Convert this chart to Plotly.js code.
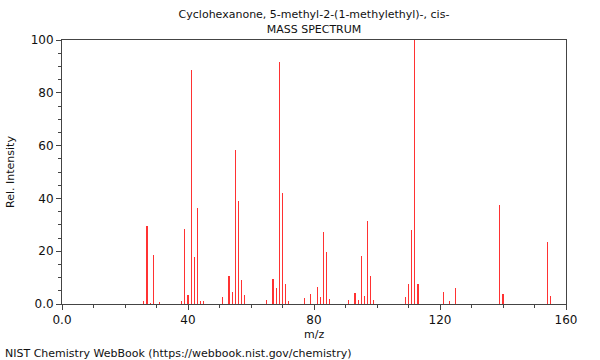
<!DOCTYPE html>
<html>
<head>
<meta charset="utf-8">
<script src="https://cdn.plot.ly/plotly-3.0.1.min.js"></script>
<style>html,body{margin:0;padding:0;background:#fff}#chart{width:600px;height:360px}</style>
</head>
<body>
<div id="chart"></div>
<script>
const mz = [26, 27, 28, 29, 31, 38, 39, 40, 41, 42, 43, 44, 45,
            51, 53, 54, 55, 56, 57, 58, 65, 67, 68, 69, 70, 71, 72,
            77, 79, 81, 82, 83, 84, 85, 91, 93, 94, 95, 96, 97, 98, 99,
            109, 110, 111, 112, 113, 121, 123, 125, 139, 140, 154, 155];
const intensity = [1.0, 29.4, 0.5, 18.7, 0.6, 1.2, 28.6, 3.4, 88.8, 17.8, 36.2, 1.2, 1.0,
                   2.5, 10.6, 4.4, 58.2, 39.0, 9.2, 3.4, 1.6, 9.5, 6.0, 91.5, 42.1, 7.7, 1.0,
                   2.4, 3.9, 6.6, 2.6, 27.4, 19.7, 2.0, 1.5, 4.0, 1.7, 18.2, 3.0, 31.5, 10.6, 1.7,
                   2.8, 7.4, 28.0, 100, 7.4, 4.4, 1.0, 5.9, 37.6, 3.7, 23.5, 2.9];
const xTickVals = [0, 40, 80, 120, 160];
const xTickText = ["0.0", "40", "80", "120", "160"];
const yTickVals = [0, 20, 40, 60, 80, 100];
const yTickText = ["0.0", "20", "40", "60", "80", "100"];
const chartTitle = "Cyclohexanone, 5-methyl-2-(1-methylethyl)-, cis-<br>MASS SPECTRUM";
const xTitle = "m/z";
const yTitle = "Rel. Intensity";
const footer = "NIST Chemistry WebBook (https://webbook.nist.gov/chemistry)";

const font = {family: "DejaVu Sans, sans-serif", size: 11, color: "#111"};
const axisColor = "#444";

const trace = {
  type: "bar",
  x: mz,
  y: intensity,
  width: 0.36,
  marker: {color: "rgb(255,50,50)", line: {width: 0}},
  hoverinfo: "x+y"
};

const layout = {
  width: 600, height: 360,
  margin: {l: 62, r: 34, t: 40, b: 56},
  paper_bgcolor: "#fff", plot_bgcolor: "#fff",
  font: font,
  showlegend: false,
  bargap: 0,
  title: {text: chartTitle, font: {family: font.family, size: 11, color: "#111"},
          xref: "paper", x: 0.5, xanchor: "center", yref: "container", y: 0.949, yanchor: "top"},
  xaxis: {
    range: [0, 160], tickmode: "array", tickvals: xTickVals, ticktext: xTickText,
    ticks: "outside", ticklen: 5, tickcolor: axisColor, tickwidth: 1,
    minor: {tickmode: "linear", tick0: 0, dtick: 10, ticks: "outside", ticklen: 3, tickcolor: axisColor, showgrid: false},
    showline: true, linecolor: axisColor, linewidth: 1, mirror: true,
    showgrid: false, zeroline: false,
    tickfont: {family: font.family, size: 12, color: "#111"}
  },
  yaxis: {
    range: [0, 100], tickmode: "array", tickvals: yTickVals, ticktext: yTickText,
    ticks: "outside", ticklen: 5, tickcolor: axisColor, tickwidth: 1,
    minor: {tickmode: "linear", tick0: 0, dtick: 5, ticks: "outside", ticklen: 3, tickcolor: axisColor, showgrid: false},
    showline: true, linecolor: axisColor, linewidth: 1, mirror: true,
    showgrid: false, zeroline: false,
    tickfont: {family: font.family, size: 12, color: "#111"},
    title: {text: yTitle, font: {family: font.family, size: 11, color: "#111"}, standoff: 13}
  },
  annotations: [{
    text: xTitle, xref: "paper", yref: "paper",
    x: 0.5, y: -0.116, xanchor: "center", yanchor: "middle", showarrow: false,
    font: {family: font.family, size: 11, color: "#111"}
  }, {
    text: footer, xref: "paper", yref: "paper",
    x: -0.117, y: -0.188, xanchor: "left", yanchor: "middle", showarrow: false,
    font: {family: font.family, size: 11, color: "#111"}
  }]
};

Plotly.newPlot("chart", [trace], layout, {displayModeBar: false, staticPlot: true});
</script>
</body>
</html>
